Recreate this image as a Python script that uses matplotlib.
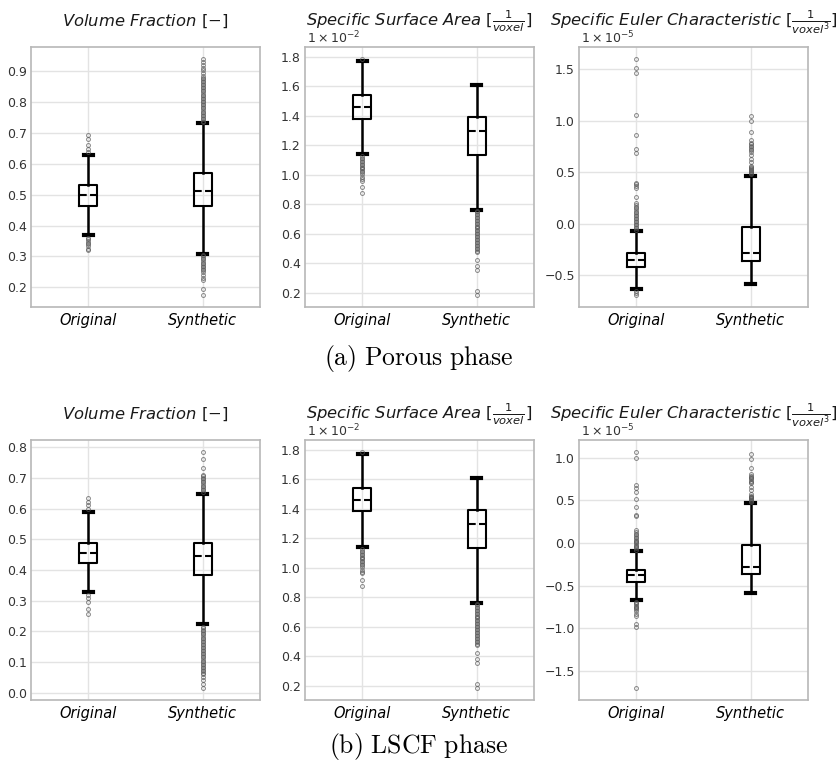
import matplotlib
matplotlib.use('Agg')
import matplotlib.pyplot as plt

# ---- data (displayed units) ----
labels = ['Original', 'Synthetic']

# (a) porous phase - volume fraction
por_vf_stats = [
    dict(q1=0.465, med=0.499, q3=0.531, whislo=0.368, whishi=0.630),
    dict(q1=0.465, med=0.511, q3=0.572, whislo=0.309, whishi=0.732),
]
por_vf_fliers = [
    [0.640, 0.650, 0.660, 0.680, 0.695,
     0.360, 0.355, 0.350, 0.345, 0.340, 0.335, 0.325, 0.321],
    [0.735, 0.740, 0.745, 0.750, 0.755, 0.760, 0.765, 0.770, 0.775, 0.780,
     0.785, 0.790, 0.795, 0.800, 0.805, 0.810, 0.815, 0.820, 0.825, 0.830,
     0.835, 0.840, 0.845, 0.850, 0.855, 0.860, 0.865, 0.870, 0.875, 0.880,
     0.885, 0.895, 0.905, 0.910, 0.920, 0.930, 0.941,
     0.305, 0.300, 0.295, 0.290, 0.285, 0.280, 0.275, 0.270, 0.265, 0.260,
     0.255, 0.250, 0.240, 0.230, 0.222, 0.193, 0.174],
]

# (a) porous phase - specific surface area (x 1e-2)
por_ssa_stats = [
    dict(q1=1.381, med=1.462, q3=1.541, whislo=1.137, whishi=1.771),
    dict(q1=1.135, med=1.295, q3=1.388, whislo=0.763, whishi=1.608),
]
por_ssa_fliers = [
    [1.786,
     1.125, 1.115, 1.105, 1.095, 1.085, 1.075, 1.065, 1.055, 1.045, 1.035,
     1.025, 1.015, 1.005, 0.985, 0.970, 0.960, 0.917, 0.876],
    [0.755, 0.745, 0.735, 0.725, 0.715, 0.705, 0.695, 0.685, 0.675, 0.665,
     0.655, 0.645, 0.635, 0.625, 0.615, 0.605, 0.595, 0.585, 0.575, 0.565,
     0.555, 0.545, 0.535, 0.525, 0.515, 0.505, 0.495, 0.485, 0.475,
     0.421, 0.380, 0.355, 0.209, 0.182],
]

# (a) porous phase - specific euler characteristic (x 1e-5)
por_euler_stats = [
    dict(q1=-0.421, med=-0.350, q3=-0.286, whislo=-0.633, whishi=-0.071),
    dict(q1=-0.360, med=-0.280, q3=-0.026, whislo=-0.588, whishi=0.466),
]
por_euler_fliers = [
    [-0.650, -0.670, -0.693,
     -0.060, -0.045, -0.030, -0.015, 0.000, 0.015, 0.030, 0.045, 0.060,
     0.075, 0.090, 0.105, 0.120, 0.135, 0.150, 0.165, 0.180, 0.200,
     0.260, 0.350, 0.370, 0.385, 0.400, 0.685, 0.723, 0.862, 1.061,
     1.470, 1.510, 1.603],
    [0.480, 0.490, 0.500, 0.510, 0.520, 0.530, 0.540, 0.550, 0.560, 0.600,
     0.630, 0.670, 0.700, 0.715, 0.730, 0.745, 0.760, 0.775, 0.790, 0.810,
     0.891, 0.997, 1.045],
]

# (b) LSCF phase - volume fraction
lscf_vf_stats = [
    dict(q1=0.422, med=0.456, q3=0.489, whislo=0.327, whishi=0.588),
    dict(q1=0.384, med=0.444, q3=0.487, whislo=0.224, whishi=0.647),
]
lscf_vf_fliers = [
    [0.600, 0.610, 0.620, 0.635,
     0.320, 0.310, 0.297, 0.273, 0.258],
    [0.655, 0.660, 0.665, 0.670, 0.675, 0.680, 0.685, 0.690, 0.695, 0.700,
     0.705, 0.710, 0.732, 0.763, 0.785,
     0.215, 0.210, 0.205, 0.200, 0.195, 0.190, 0.185, 0.180, 0.175, 0.170,
     0.165, 0.160, 0.155, 0.150, 0.145, 0.140, 0.135, 0.130, 0.125, 0.120,
     0.115, 0.110, 0.105, 0.100, 0.095, 0.090, 0.085, 0.080, 0.075, 0.070,
     0.065, 0.060, 0.050, 0.040, 0.030, 0.015],
]

# (b) LSCF phase - specific surface area (x 1e-2)
lscf_ssa_stats = [
    dict(q1=1.381, med=1.462, q3=1.541, whislo=1.137, whishi=1.771),
    dict(q1=1.135, med=1.295, q3=1.388, whislo=0.763, whishi=1.608),
]
lscf_ssa_fliers = [
    [1.786,
     1.125, 1.115, 1.105, 1.095, 1.085, 1.075, 1.065, 1.055, 1.045, 1.035,
     1.025, 1.015, 1.005, 0.985, 0.970, 0.960, 0.917, 0.876],
    [0.755, 0.745, 0.735, 0.725, 0.715, 0.705, 0.695, 0.685, 0.675, 0.665,
     0.655, 0.645, 0.635, 0.625, 0.615, 0.605, 0.595, 0.585, 0.575, 0.565,
     0.555, 0.545, 0.535, 0.525, 0.515, 0.505, 0.495, 0.485, 0.475,
     0.421, 0.380, 0.355, 0.209, 0.182],
]

# (b) LSCF phase - specific euler characteristic (x 1e-5)
lscf_euler_stats = [
    dict(q1=-0.460, med=-0.378, q3=-0.312, whislo=-0.675, whishi=-0.090),
    dict(q1=-0.359, med=-0.281, q3=-0.027, whislo=-0.593, whishi=0.472),
]
lscf_euler_fliers = [
    [-0.080, -0.065, -0.050, -0.035, -0.020, -0.005, 0.010, 0.025, 0.040,
     0.055, 0.070, 0.090, 0.110, 0.130, 0.150, 0.320, 0.330, 0.417, 0.511,
     0.598, 0.650, 0.684, 0.992, 1.070,
     -0.690, -0.705, -0.720, -0.735, -0.750, -0.765, -0.780, -0.800,
     -0.830, -0.857, -0.955, -0.985, -1.704],
    [0.485, 0.495, 0.505, 0.515, 0.525, 0.535, 0.545, 0.555, 0.570, 0.620,
     0.660, 0.700, 0.715, 0.730, 0.745, 0.760, 0.775, 0.790, 0.805,
     0.883, 0.988, 1.043],
]

titles = ['Volume Fraction $[-]$',
          r'Specific Surface Area $[\frac{1}{voxel}]$',
          r'Specific Euler Characteristic $[\frac{1}{voxel^3}]$']
offsets = [None, r'$1\times10^{-2}$', r'$1\times10^{-5}$']


def draw_box(ax, stats, fliers, title, offset):
    for s, f, lab in zip(stats, fliers, labels):
        s['fliers'] = f
        s['label'] = lab
    ax.bxp(stats, positions=[1, 2], widths=0.16,
           boxprops=dict(color='black', linewidth=1.5),
           whiskerprops=dict(color='black', linewidth=1.8),
           capprops=dict(color='black', linewidth=3.0),
           medianprops=dict(color='black', linewidth=1.5, linestyle='--'),
           flierprops=dict(marker='o', markersize=2.8, markerfacecolor='none',
                           markeredgecolor='#555555', markeredgewidth=0.7,
                           alpha=0.7))
    ax.set_xlim(0.5, 2.5)
    ax.set_title(title, fontsize=11.8, fontstyle='italic', pad=15.5, color='#1a1a1a')
    ax.tick_params(axis='x', labelsize=10.5, length=0, pad=4)
    ax.tick_params(axis='y', labelsize=9, length=0, pad=3, labelcolor='#333333')
    for t in ax.get_xticklabels():
        t.set_fontstyle('italic')
    ax.grid(True, color='#e3e3e3', linewidth=1.0)
    ax.set_axisbelow(True)
    for sp in ax.spines.values():
        sp.set_color('#b8b8b8')
        sp.set_linewidth(1.2)
    if offset:
        ax.text(0.01, 1.003, offset, transform=ax.transAxes, fontsize=9,
                ha='left', va='bottom', color='#333333')


fig = plt.figure(figsize=(8.37, 7.63), dpi=100)
lefts = [0.037, 0.3644, 0.6918]
w, h = 0.2736, 0.3408
rows = [
    (0.5976, [(por_vf_stats, por_vf_fliers), (por_ssa_stats, por_ssa_fliers),
              (por_euler_stats, por_euler_fliers)]),
    (0.0826, [(lscf_vf_stats, lscf_vf_fliers), (lscf_ssa_stats, lscf_ssa_fliers),
              (lscf_euler_stats, lscf_euler_fliers)]),
]
for bottom, panels in rows:
    for i, (st, fl) in enumerate(panels):
        ax = fig.add_axes([lefts[i], bottom, w, h])
        draw_box(ax, st, fl, titles[i], offsets[i])

fig.text(0.5, 1 - 359 / 763, r'$\mathrm{(a)\ Porous\ phase}$', fontsize=18.5,
         ha='center', va='center', math_fontfamily='cm')
fig.text(0.5, 1 - 747 / 763, r'$\mathrm{(b)\ LSCF\ phase}$', fontsize=18.5,
         ha='center', va='center', math_fontfamily='cm')

fig.savefig('out.png', dpi=100)
